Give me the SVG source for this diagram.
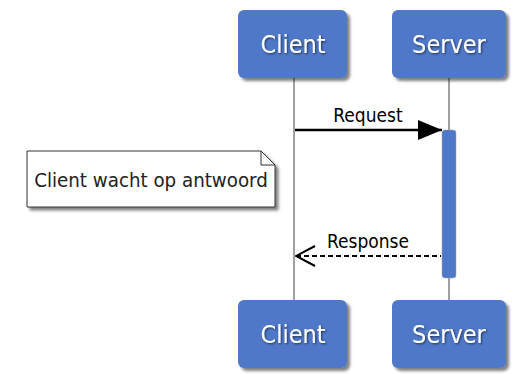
<svg xmlns="http://www.w3.org/2000/svg" width="520" height="374" viewBox="0 0 520 374">
<defs>
<filter id="sh" x="-20%" y="-20%" width="150%" height="150%">
<feGaussianBlur in="SourceAlpha" stdDeviation="1.8"/>
<feOffset dx="3" dy="3"/>
<feComponentTransfer><feFuncA type="linear" slope="0.5"/></feComponentTransfer>
<feMerge><feMergeNode/><feMergeNode in="SourceGraphic"/></feMerge>
</filter>
<filter id="tsh" x="-10%" y="-10%" width="130%" height="140%">
<feGaussianBlur in="SourceAlpha" stdDeviation="1"/>
<feOffset dx="1" dy="1"/>
<feComponentTransfer><feFuncA type="linear" slope="0.6"/></feComponentTransfer>
<feMerge><feMergeNode/><feMergeNode in="SourceGraphic"/></feMerge>
</filter>
<marker id="filled" markerWidth="24" markerHeight="20" refX="24" refY="10" orient="auto" markerUnits="userSpaceOnUse">
<path d="M0,0 L24,10 L0,20 Z" fill="#000"/>
</marker>
<marker id="open" markerWidth="22" markerHeight="24" refX="1" refY="12" orient="auto" markerUnits="userSpaceOnUse">
<path d="M20,2 L1,12 L20,22" fill="none" stroke="#000" stroke-width="2"/>
</marker>
</defs>
<style>
.box{fill:#4f78c8;stroke:none}
.title{font-family:"DejaVu Sans Condensed","DejaVu Sans",Verdana,sans-serif;font-stretch:condensed;font-size:25px;fill:#fff;text-anchor:middle}
.life{stroke:#a0a0a0;stroke-width:2}
.lbl{font-family:"DejaVu Sans Condensed","DejaVu Sans",Verdana,sans-serif;font-stretch:condensed;font-size:19px;fill:#000;text-anchor:middle}
</style>
<g id="lifelines">
<line class="life" x1="294" y1="78" x2="294" y2="300"/>
<line class="life" x1="449" y1="78" x2="449" y2="300"/>
</g>
<g id="client-top"><rect class="box" x="238" y="10" width="109" height="68" rx="6" filter="url(#sh)"/><text class="title" x="293" y="53" filter="url(#tsh)">Client</text></g>
<g id="server-top"><rect class="box" x="392" y="10" width="114" height="68" rx="6" filter="url(#sh)"/><text class="title" x="449" y="53" filter="url(#tsh)">Server</text></g>
<g id="client-bottom"><rect class="box" x="238" y="300" width="109" height="68" rx="6" filter="url(#sh)"/><text class="title" x="293" y="343" filter="url(#tsh)">Client</text></g>
<g id="server-bottom"><rect class="box" x="392" y="300" width="114" height="68" rx="6" filter="url(#sh)"/><text class="title" x="449" y="343" filter="url(#tsh)">Server</text></g>
<g id="activation"><rect x="442" y="130" width="14" height="148" rx="3" fill="#4f78c8" stroke="#a0a0a0" stroke-width="0.5"/></g>
<g id="note">
<path d="M27,151 L261,151 L275,165 L275,207 L27,207 Z" fill="#fff" stroke="#333" stroke-width="1" filter="url(#sh)"/>
<path d="M261,151 L261,165 L275,165" fill="none" stroke="#333" stroke-width="1"/>
<text x="151" y="187" font-family="DejaVu Sans Condensed,DejaVu Sans,Verdana,sans-serif" font-stretch="condensed" font-size="20.3" text-anchor="middle" fill="#222">Client wacht op antwoord</text>
</g>
<g id="connectors">
<line x1="295" y1="130" x2="442" y2="130" stroke="#000" stroke-width="2.5" marker-end="url(#filled)"/>
<text class="lbl" x="368" y="122">Request</text>
<line x1="296" y1="256" x2="441" y2="256" stroke="#000" stroke-width="2" stroke-dasharray="5,3" marker-start="url(#open)"/>
<text class="lbl" x="368" y="248">Response</text>
</g>
</svg>
